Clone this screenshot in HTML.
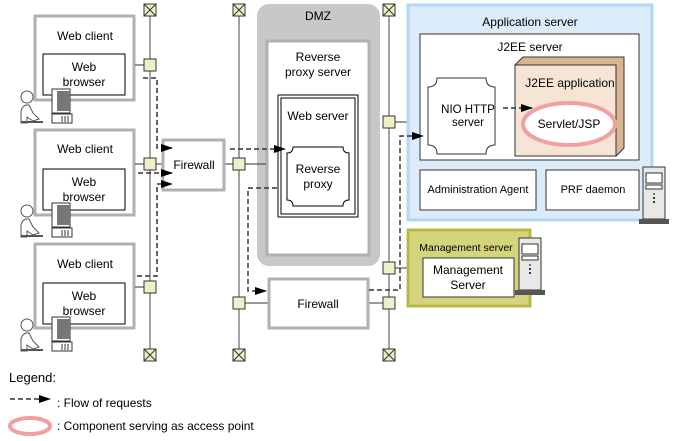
<!DOCTYPE html>
<html><head><meta charset="utf-8"><style>
html,body{margin:0;padding:0;background:#fff;}
svg{display:block;font-family:"Liberation Sans",sans-serif;font-size:12px;}
</style></head><body>
<svg width="677" height="441" viewBox="0 0 677 441" xmlns="http://www.w3.org/2000/svg">
<defs>
<marker id="ar" markerWidth="12" markerHeight="8" refX="11" refY="4" orient="auto" markerUnits="userSpaceOnUse"><path d="M0,0 L12,4 L0,8 z" fill="#000"/></marker>
<g id="xb"><rect x="-6" y="-6" width="12" height="12" fill="#f0f0c8" stroke="#333" stroke-width="1"/><path d="M-6,-6 L6,6 M6,-6 L-6,6" stroke="#333"/></g>
<rect id="sq" x="-6" y="-6" width="12" height="12" fill="#f0f0c8" stroke="#333"/>
<g id="pc">
<circle cx="8" cy="6" r="6" fill="#fff" stroke="#555"/>
<path d="M2,32 L2,20 Q4,13 10,14 L14,22 L20,28 L14,30 L8,26 L8,32 z" fill="#fff" stroke="#555"/>
<rect x="2" y="30" width="22" height="2" fill="#555"/>
<rect x="33" y="-2" width="18" height="24" fill="#fff" stroke="#333"/>
<rect x="38" y="0" width="13" height="20" fill="#777"/>
<rect x="33" y="23" width="20" height="9" fill="#fff" stroke="#333"/>
<path d="M43,25 v6 M46,25 v6 M49,25 v6" stroke="#333"/>
</g>
<g id="srv">
<rect x="0" y="0" width="22" height="52" fill="#e8e8e8" stroke="#333"/>
<rect x="3" y="6" width="16" height="10" fill="#fff" stroke="#333"/>
<rect x="3" y="18" width="16" height="4" fill="#fff" stroke="#333"/>
<rect x="10" y="26" width="2" height="2" fill="#3a3"/>
<rect x="10" y="30" width="2" height="2" fill="#333"/><rect x="10" y="34" width="2" height="2" fill="#333"/>
<rect x="-4" y="52" width="30" height="5" fill="#555"/>
</g>
</defs>

<line x1="150" y1="10" x2="150" y2="355" stroke="#444"/>
<line x1="239" y1="10" x2="239" y2="355" stroke="#444"/>
<line x1="389" y1="10" x2="389" y2="355" stroke="#444"/>

<rect x="257" y="4" width="123" height="262" rx="12" fill="#c8c8c8"/>
<text x="318" y="20" text-anchor="middle">DMZ</text>
<rect x="267" y="41" width="102" height="214" fill="#fff" stroke="#b0b0b0" stroke-width="3"/>
<text x="318" y="61" text-anchor="middle">Reverse</text>
<text x="318" y="76" text-anchor="middle">proxy server</text>
<rect x="278" y="95" width="80" height="122" fill="#fff" stroke="#000"/>
<rect x="281" y="98" width="74" height="116" fill="#fff" stroke="#000"/>
<text x="318" y="120" text-anchor="middle">Web server</text>
<path d="M293,147 H343 v0 q0,6 6,6 V200 q-6,0 -6,6 H293 q0,-6 -6,-6 V153 q6,0 6,-6 z" fill="#fff" stroke="#000"/>
<text x="318" y="173" text-anchor="middle">Reverse</text>
<text x="318" y="188" text-anchor="middle">proxy</text>

<g>
<rect x="35" y="16" width="99" height="84" fill="#fff" stroke="#b0b0b0" stroke-width="3"/>
<text x="85" y="40" text-anchor="middle">Web client</text>
<rect x="43" y="54" width="82" height="41" fill="#fff" stroke="#000"/>
<text x="84" y="71" text-anchor="middle">Web</text><text x="84" y="86" text-anchor="middle">browser</text>
</g>
<g>
<rect x="35" y="130" width="99" height="85" fill="#fff" stroke="#b0b0b0" stroke-width="3"/>
<text x="85" y="153" text-anchor="middle">Web client</text>
<rect x="43" y="169" width="82" height="41" fill="#fff" stroke="#000"/>
<text x="84" y="186" text-anchor="middle">Web</text><text x="84" y="201" text-anchor="middle">browser</text>
</g>
<g>
<rect x="35" y="244" width="99" height="84" fill="#fff" stroke="#b0b0b0" stroke-width="3"/>
<text x="85" y="268" text-anchor="middle">Web client</text>
<rect x="43" y="283" width="82" height="41" fill="#fff" stroke="#000"/>
<text x="84" y="300" text-anchor="middle">Web</text><text x="84" y="315" text-anchor="middle">browser</text>
</g>
<use href="#pc" x="19" y="91"/>
<use href="#pc" x="19" y="205"/>
<use href="#pc" x="19" y="319"/>

<path d="M135,65 H150 M135,164 H150 M135,287 H150 M225,164 H239 M239,164 H266 M389,122 H407 M389,268 H407 M239,303 H268 M389,303 H369 M162,164 H150" stroke="#333"/>

<rect x="163" y="140" width="61" height="50" fill="#fff" stroke="#b0b0b0" stroke-width="3"/>
<text x="194" y="169" text-anchor="middle">Firewall</text>
<rect x="269" y="279" width="99" height="49" fill="#fff" stroke="#b0b0b0" stroke-width="3"/>
<text x="318" y="308" text-anchor="middle">Firewall</text>

<rect x="408" y="5" width="244" height="215" fill="#dcebfa" stroke="#b4d6f6" stroke-width="3"/>
<text x="530" y="26" text-anchor="middle">Application server</text>
<rect x="420" y="34" width="219" height="126" fill="#fff" stroke="#333"/>
<text x="530" y="51" text-anchor="middle">J2EE server</text>
<path d="M515,65 L523,57 H624 V148 L616,156 z" fill="#d9b58f" stroke="#333"/>
<rect x="515" y="65" width="101" height="91" fill="#f6e4d5" stroke="#333"/>
<text x="570" y="87" text-anchor="middle">J2EE application</text>
<ellipse cx="569" cy="124" rx="46" ry="21" fill="#fff" stroke="#f0a0a0" stroke-width="4"/>
<text x="569" y="128" text-anchor="middle">Servlet/JSP</text>
<path d="M437,78 H486 q0,9 9,9 V145 q-9,0 -9,9 H437 q0,-9 -9,-9 V87 q9,0 9,-9 z" fill="#fff" stroke="#333"/>
<text x="468" y="113" text-anchor="middle" font-size="11.5">NIO HTTP</text>
<text x="468" y="126" text-anchor="middle" font-size="11.5">server</text>
<rect x="420" y="170" width="116" height="40" fill="#fff" stroke="#333"/>
<text x="478" y="193" text-anchor="middle" font-size="11">Administration Agent</text>
<rect x="546" y="170" width="93" height="40" fill="#fff" stroke="#333"/>
<text x="593" y="193" text-anchor="middle" font-size="11">PRF daemon</text>
<use href="#srv" x="643" y="167"/>

<rect x="408" y="230" width="122" height="76" fill="#d4d47c" stroke="#b8b848" stroke-width="3"/>
<text x="466" y="251" text-anchor="middle" font-size="10.5">Management server</text>
<rect x="423" y="258" width="91" height="39" fill="#fff" stroke="#333"/>
<text x="468" y="274" text-anchor="middle">Management</text>
<text x="468" y="289" text-anchor="middle">Server</text>
<use href="#srv" x="519" y="238"/>

<use href="#xb" x="150" y="10"/><use href="#xb" x="150" y="355"/>
<use href="#xb" x="239" y="10"/><use href="#xb" x="239" y="355"/>
<use href="#xb" x="389" y="10"/><use href="#xb" x="389" y="355"/>
<use href="#sq" x="150" y="65"/><use href="#sq" x="150" y="164"/><use href="#sq" x="150" y="287"/>
<use href="#sq" x="239" y="164"/><use href="#sq" x="239" y="303"/>
<use href="#sq" x="389" y="122"/><use href="#sq" x="389" y="268"/><use href="#sq" x="389" y="303"/>

<g fill="none" stroke="#333" stroke-width="1.5" stroke-dasharray="5,3">
<path d="M143,78 H157 V148 H172" marker-end="url(#ar)"/>
<path d="M138,173 H172" marker-end="url(#ar)"/>
<path d="M137,276 H157 V184 H172" marker-end="url(#ar)"/>
<path d="M230,149 H285" marker-end="url(#ar)"/>
<path d="M277,188 H248 V291 H266" marker-end="url(#ar)"/>
<path d="M369,290 H400 V136 H423" marker-end="url(#ar)"/>
<path d="M503,108 H532" marker-end="url(#ar)"/>
<path d="M10,399 H50" marker-end="url(#ar)"/>
</g>

<text x="9" y="382" font-size="13">Legend:</text>
<text x="57" y="407">: Flow of requests</text>
<ellipse cx="30" cy="426" rx="20" ry="8" fill="#fff" stroke="#f0a0a0" stroke-width="4"/>
<text x="57" y="430">: Component serving as access point</text>
</svg>
</body></html>
